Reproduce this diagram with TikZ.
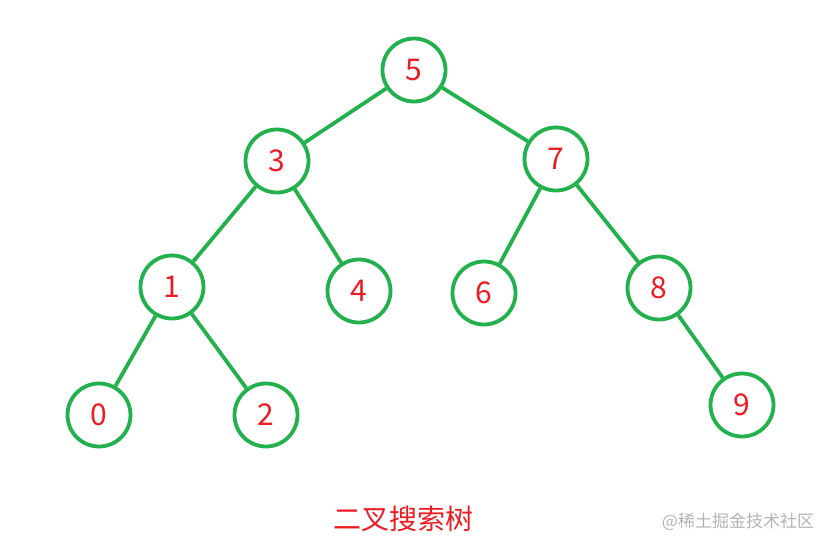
\documentclass[tikz,border=0pt]{standalone}
\usepackage{fontspec}
\newfontfamily\cjk{Noto Sans CJK SC}
\usepackage{tikz}
\definecolor{treegreen}{HTML}{22B14C}
\definecolor{treered}{HTML}{ED1C24}
\definecolor{markgray}{HTML}{B4B4B4}
\tikzset{
    vert/.style={circle, draw=treegreen, line width=3.8pt, minimum size=63pt, inner sep=0pt,
        text=treered, font=\cjk\fontsize{30}{30}\selectfont},
    edge/.style={draw=treegreen, line width=3.8pt}
}
\begin{document}
\begin{tikzpicture}[x=1pt, y=-1pt]
        \useasboundingbox (0,0) rectangle (834,549);

        % Vertices
        \foreach \n/\x/\y in {5/414/70, 3/277/161, 7/556/159, 1/172/287, 4/359/291,
                              6/484/293, 8/659/288, 0/99/415, 2/266/415, 9/742/405}
        \node[vert] (v\n) at (\x,\y) {\n};

        % Edges
        \foreach \a/\b in {5/3, 5/7, 3/1, 3/4, 7/6, 7/8, 1/0, 1/2, 8/9}
        \draw[edge] (v\a) -- (v\b);

        % Caption
        \node[text=treered, font=\cjk\fontsize{28}{28}\selectfont] (title) at (403,519) {二叉搜索树};
        \node[text=markgray, font=\cjk\fontsize{17}{17}\selectfont] (mark) at (738,522) {@稀土掘金技术社区};

    \end{tikzpicture}
\end{document}
